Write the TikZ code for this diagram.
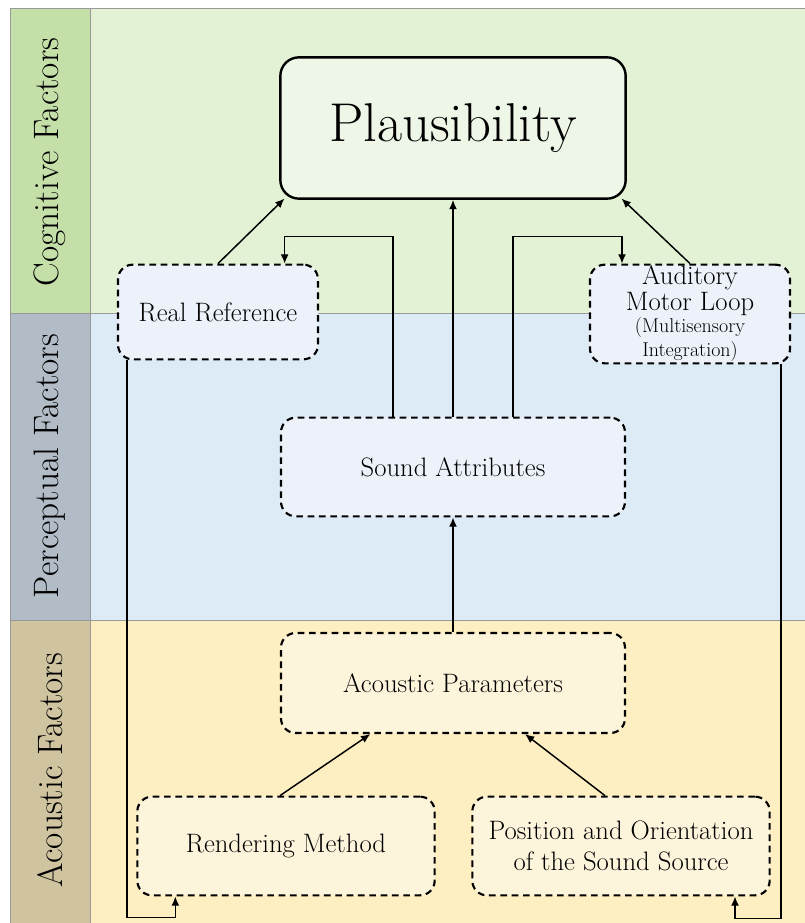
\documentclass[tikz,border=0pt]{standalone}
\usepackage{tikz}
\usetikzlibrary{arrows.meta}

\definecolor{cogband}{HTML}{E3F2D5}
\definecolor{coglabel}{HTML}{C5DFA9}
\definecolor{perband}{HTML}{DDEBF7}
\definecolor{perlabel}{HTML}{B1BCC6}
\definecolor{acoband}{HTML}{FEEFC3}
\definecolor{acolabel}{HTML}{CFC49F}
\definecolor{cogfill}{HTML}{EEF6E7}
\definecolor{perfill}{HTML}{EDF2FA}
\definecolor{acofill}{HTML}{FDF4DC}

\begin{document}
\begin{tikzpicture}[x=0.75pt,y=-0.75pt,->,>={Latex[length=7pt,width=6pt]},line width=1.1pt,
    band/.style={draw=gray!80,line width=0.5pt},
    side label/.style={rotate=90,font=\fontsize{26.5}{28}\selectfont},
    main box/.style={draw,rounded corners=14pt,line width=1.8pt,align=center,inner sep=0pt},
    factor box/.style={draw,dashed,dash pattern=on 5pt off 3.5pt,rounded corners=11pt,line width=1.6pt,align=center,inner sep=0pt,font=\fontsize{20}{23}\selectfont}]

  \useasboundingbox (0,0) rectangle (805,923);
  % bands
  \filldraw[band,fill=cogband] (90,8) rectangle (805,313);
  \filldraw[band,fill=coglabel] (10,8) rectangle (90,313);
  \filldraw[band,fill=perband] (90,313) rectangle (805,620);
  \filldraw[band,fill=perlabel] (10,313) rectangle (90,620);
  \filldraw[band,fill=acoband] (90,620) rectangle (805,923);
  \filldraw[band,fill=acolabel] (10,620) rectangle (90,923);

  \node[side label] (cog) at (50,162) {Cognitive Factors};
  \node[side label] (per) at (50,466) {Perceptual Factors};
  \node[side label] (aco) at (50,770) {Acoustic Factors};

  % boxes
  \node[main box,fill=cogfill,minimum width=259pt,minimum height=106pt,font=\fontsize{41}{44}\selectfont] (plaus) at (453,128) {Plausibility};
  \node[factor box,fill=perfill,minimum width=150pt,minimum height=71pt] (realref) at (218,312) {Real Reference};
  \node[factor box,fill=perfill,minimum width=150pt,minimum height=74pt] (aml) at (690,314) {Auditory\\[-4pt]Motor Loop\\[-6pt]{\fontsize{15}{13}\selectfont (Multisensory}\\[-5pt]{\fontsize{15}{13}\selectfont Integration)}};
  \node[factor box,fill=perfill,minimum width=258pt,minimum height=74pt] (sattr) at (453,467) {Sound Attributes};
  \node[factor box,fill=acofill,minimum width=258pt,minimum height=75pt] (aparam) at (453,683) {Acoustic Parameters};
  \node[factor box,fill=acofill,minimum width=223pt,minimum height=74pt] (render) at (286,846) {Rendering Method};
  \node[factor box,fill=acofill,minimum width=223pt,minimum height=74pt] (pos) at (621,846) {Position and Orientation\\of the Sound Source};

  % connections
  \draw (realref.north) -- ([xshift=4pt,yshift=1pt]plaus.south west);
  \draw (aml.north) -- ([xshift=-4pt,yshift=1pt]plaus.south east);
  \draw (sattr.north) -- (plaus.south);
  \draw ([xshift=-45pt]sattr.north) -- ++(0,-180) -| ([xshift=50pt]realref.north);
  \draw ([xshift=45pt]sattr.north) -- ++(0,-180) -| ([xshift=-51pt]aml.north);
  \draw (aparam.north) -- (sattr.south);
  \draw ([xshift=-4.5pt]render.north) -- ([xshift=-62pt]aparam.south);
  \draw ([xshift=-12pt]pos.north) -- ([xshift=54pt]aparam.south);
  \draw ([xshift=7.5pt]realref.south west) -- ++(0,557) -| ([xshift=-83pt]render.south);
  \draw ([xshift=-7.5pt]aml.south east) -- ++(0,554) -| ([xshift=85.5pt]pos.south);

\end{tikzpicture}
\end{document}
